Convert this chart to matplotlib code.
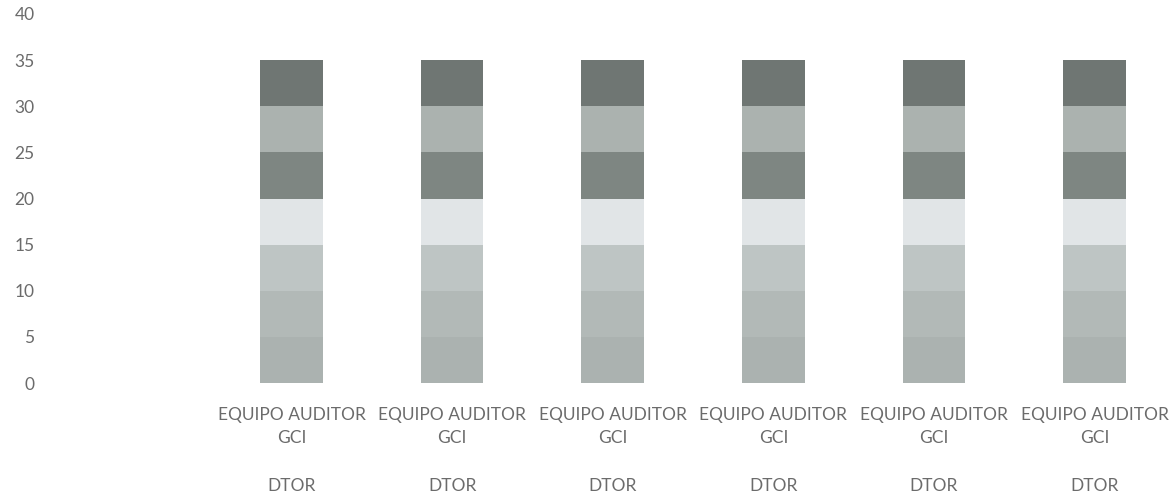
import matplotlib
matplotlib.use("Agg")
import matplotlib.pyplot as plt
import numpy as np

categories = ["EQUIPO AUDITOR\nGCI\n\nDTOR"] * 6
series_names = ["S1", "S2", "S3", "S4", "S5", "S6", "S7"]
series_values = [
    [5, 5, 5, 5, 5, 5],
    [5, 5, 5, 5, 5, 5],
    [5, 5, 5, 5, 5, 5],
    [5, 5, 5, 5, 5, 5],
    [5, 5, 5, 5, 5, 5],
    [5, 5, 5, 5, 5, 5],
    [5, 5, 5, 5, 5, 5],
]
series_colors = ["#abb2b0", "#b2b9b7", "#bec5c4", "#e1e5e7", "#7e8682", "#abb2af", "#6f7673"]
y_ticks = [0, 5, 10, 15, 20, 25, 30, 35, 40]

plt.rcParams['font.family'] = ['Lato', 'DejaVu Sans']
fig = plt.figure(figsize=(11.71, 4.97), dpi=100)
ax = fig.add_axes([40 / 1171, 1 - 383 / 497, 1 - 40 / 1171, (383 - 14) / 497])

x = np.arange(len(categories))
bottom = np.zeros(len(categories))
for name, vals, col in zip(series_names, series_values, series_colors):
    ax.bar(x, vals, width=0.39, bottom=bottom, color=col, label=name,
           edgecolor="none")
    bottom += np.array(vals)

ax.set_ylim(0, 40)
ax.set_yticks(y_ticks)
ax.set_xlim(-1.566, 5.476)
ax.set_xticks(x)
ax.set_xticklabels(categories, linespacing=1.6)
for s in ax.spines.values():
    s.set_visible(False)
ax.tick_params(axis="both", length=0, labelsize=12.5, labelcolor="#6b6b6b")
ax.tick_params(axis="x", pad=17)
ax.tick_params(axis="y", pad=4)

fig.savefig("out.png", dpi=100)
